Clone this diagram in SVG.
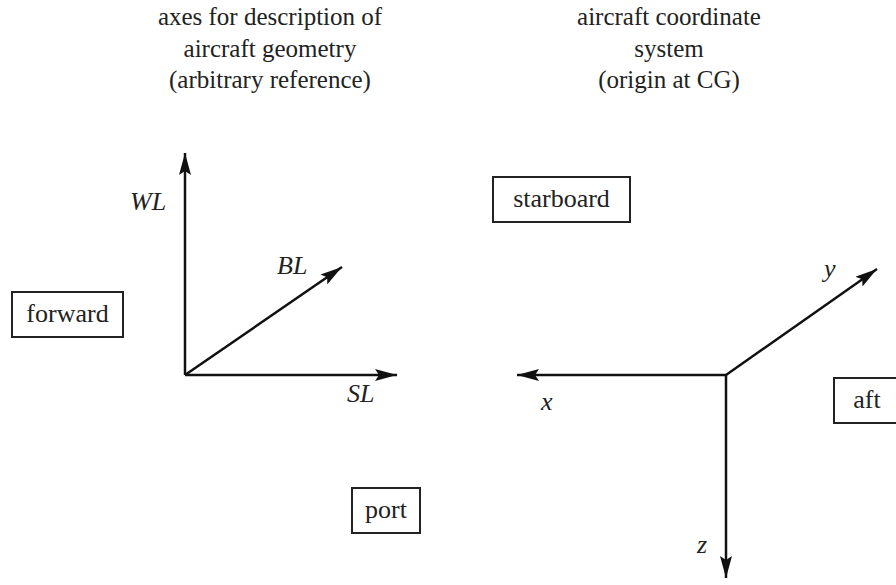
<svg xmlns="http://www.w3.org/2000/svg" width="896" height="585" viewBox="0 0 896 585">
<defs>
<marker id="ah" viewBox="0 0 22 12" refX="22" refY="6" markerWidth="22" markerHeight="12" markerUnits="userSpaceOnUse" orient="auto">
<path d="M0,0 L22,6 L0,12 L4,6 Z" fill="#111"/>
</marker>
</defs>
<style>
text{font-family:'Liberation Serif','Times New Roman',serif;font-size:26px;fill:#222}
.t{text-anchor:middle}
.h{font-size:25px}
.i{font-style:italic}
.box{fill:#fff;stroke:#222;stroke-width:2}
.ax{stroke:#111;stroke-width:2.5;fill:none}
</style>
<rect width="896" height="585" fill="#fff"/>
<g id="title-left">
<text class="t h" x="270" y="25">axes for description of</text>
<text class="t h" x="270" y="57">aircraft geometry</text>
<text class="t h" x="270" y="88">(arbitrary reference)</text>
</g>
<g id="title-right">
<text class="t h" x="669" y="25">aircraft coordinate</text>
<text class="t h" x="669" y="57">system</text>
<text class="t h" x="669" y="88">(origin at CG)</text>
</g>
<g id="connectors">
<line class="ax" x1="185" y1="375" x2="185" y2="153" marker-end="url(#ah)"/>
<line class="ax" x1="185" y1="375" x2="397" y2="375" marker-end="url(#ah)"/>
<line class="ax" x1="185" y1="375" x2="342" y2="267" marker-end="url(#ah)"/>
<line class="ax" x1="726" y1="375" x2="517" y2="375" marker-end="url(#ah)"/>
<line class="ax" x1="726" y1="375" x2="877" y2="269" marker-end="url(#ah)"/>
<line class="ax" x1="726" y1="375" x2="726" y2="578" marker-end="url(#ah)"/>
</g>
<g id="labels">
<text class="i" x="130" y="210">WL</text>
<text class="i" x="277" y="274">BL</text>
<text class="i" x="347" y="402">SL</text>
<text class="i" x="541" y="410">x</text>
<text class="i" x="824" y="277">y</text>
<text class="i" x="697" y="553">z</text>
</g>
<g id="forward">
<rect class="box" x="12" y="292" width="111" height="45"/>
<text class="t" x="67.5" y="322">forward</text>
</g>
<g id="starboard">
<rect class="box" x="493" y="177" width="137" height="45"/>
<text class="t" x="561.5" y="207">starboard</text>
</g>
<g id="port">
<rect class="box" x="352" y="488" width="68" height="45"/>
<text class="t" x="386" y="518">port</text>
</g>
<g id="aft">
<rect class="box" x="834" y="378" width="70" height="45"/>
<text class="t" x="867" y="408">aft</text>
</g>
</svg>
